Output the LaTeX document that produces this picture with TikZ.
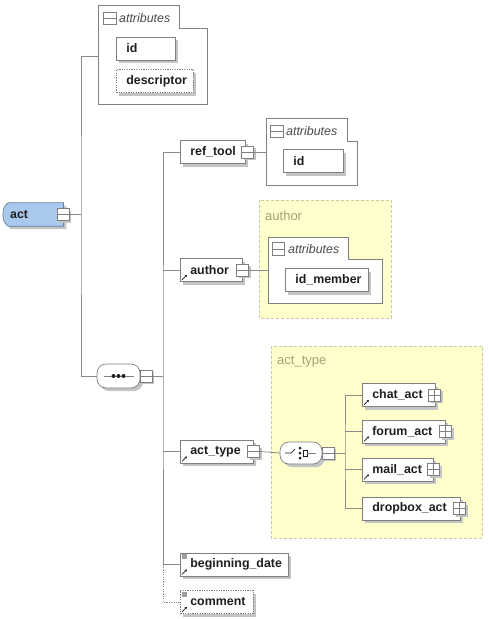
\documentclass[tikz,border=0pt]{standalone}
\usepackage{fontspec}
\setmainfont{Liberation Sans}
\usetikzlibrary{shadows,arrows.meta,backgrounds}
\definecolor{bord}{HTML}{7F7F7F}
\definecolor{connc}{HTML}{8A8A8A}
\definecolor{shd}{HTML}{C4C4C4}
\definecolor{yel}{HTML}{FFFFCC}
\definecolor{yelb}{HTML}{C9C9A8}
\definecolor{yellabc}{HTML}{A3A37A}
\definecolor{actblue}{HTML}{A9C8EE}
\definecolor{actbord}{HTML}{5F7F9F}
\definecolor{txt}{HTML}{1E1E1E}
\newcommand\elfont{\fontsize{12.4}{14}\selectfont\bfseries}
\tikzset{
  myshadow/.style={drop shadow={shadow xshift=3pt,shadow yshift=-3pt,fill=shd,opacity=1}},
  elem/.style={draw=bord, fill=white, line width=0.7pt, anchor=west, minimum height=23pt,
    inner xsep=10pt, inner ysep=0pt, align=left, text width=#1, font=\elfont, text=txt, myshadow},
  optelem/.style={elem=#1, dash pattern=on 1.2pt off 1.2pt},
  icon/.style={draw=bord, fill=white, line width=0.7pt, minimum size=12pt, inner sep=0pt,
    drop shadow={shadow xshift=2pt,shadow yshift=-2pt,fill=shd,opacity=1},
    path picture={\draw[bord,line width=0.6pt] (path picture bounding box.west) -- (path picture bounding box.east);}},
  iconp/.style={icon,
    path picture={\draw[bord,line width=0.6pt] (path picture bounding box.west) -- (path picture bounding box.east)
      (path picture bounding box.north) -- (path picture bounding box.south);}},
  minusic/.style={draw=bord, fill=white, line width=0.6pt, minimum size=12.5pt, inner sep=0pt,
    path picture={\draw[bord,line width=0.6pt] (path picture bounding box.west) -- (path picture bounding box.east);}},
  attrbox/.style={draw=bord, fill=white, line width=0.7pt},
  attrlab/.style={anchor=west, inner sep=0pt, font=\fontsize{12.4}{14}\selectfont\itshape, text=txt!80},
  yelbox/.style={draw=yelb, fill=yel, dash pattern=on 3pt off 2pt, line width=0.7pt},
  yellab/.style={anchor=west, inner sep=0pt, font=\fontsize{13}{15}\selectfont, text=yellabc},
  compos/.style={draw=bord, fill=white, line width=0.7pt, rounded corners=9pt, minimum width=43pt,
    minimum height=24pt, inner sep=0pt, myshadow},
  conn/.style={draw=connc, line width=0.8pt},
  refar/.style={draw=txt, line width=0.6pt, -{Stealth[length=2.5pt,width=2.5pt]}},
  optsq/.style={fill=gray!75}
}
\begin{document}
\begin{tikzpicture}[x=1pt,y=-1pt]
\useasboundingbox (0,0) rectangle (489,619);

% yellow type boxes
\draw[yelbox] (259,200) rectangle (391,318);
\node[yellab] (authLab) at (265,216) {author};
\draw[yelbox] (271,346) rectangle (482,538);
\node[yellab] (atLab) at (277,362) {act\_type};

% attribute containers
\draw[attrbox] (98,5) -- (179,5) -- (179,28) -- (207,28) -- (207,104) -- (98,104) -- cycle;
\node[minusic] (aIc) at (110,18.5) {};
\node[attrlab] (aLab) at (119,18.5) {attributes};
\coordinate (attrA) at (98,56);

\draw[attrbox] (266,118) -- (347,118) -- (347,141) -- (357,141) -- (357,185) -- (266,185) -- cycle;
\node[minusic] (bIc) at (277,131.5) {};
\node[attrlab] (bLab) at (286,131.5) {attributes};
\coordinate (attrB) at (266,152);

\draw[attrbox] (268,237) -- (348,237) -- (348,259) -- (382,259) -- (382,303) -- (268,303) -- cycle;
\node[minusic] (cIc) at (278.5,249) {};
\node[attrlab] (cLab) at (288,249) {attributes};
\coordinate (attrC) at (268,270);

% root element
\node[anchor=west, minimum width=60pt, minimum height=23pt, inner xsep=7pt, inner ysep=0pt,
      text width=46pt, align=left, font=\elfont, text=txt] (act) at (3,214.5) {act};
\begin{pgfonlayer}{background}
  \fill[shd] ([shift={(3,3)}]act.north east) -- ([shift={(8,3)}]act.north west)
    .. controls ([shift={(4,7)}]act.north west) and ([shift={(3,-3)}]act.west) .. ([shift={(3,3)}]act.west)
    .. controls ([shift={(3,9)}]act.west) and ([shift={(4,-1)}]act.south west) .. ([shift={(8,3)}]act.south west)
    -- ([shift={(3,3)}]act.south east) -- cycle;
  \draw[actbord, fill=actblue, line width=0.7pt] (act.north east) -- ([xshift=5]act.north west)
    .. controls ([shift={(1,4)}]act.north west) and ([shift={(0,-6)}]act.west) .. (act.west)
    .. controls ([shift={(0,6)}]act.west) and ([shift={(1,-4)}]act.south west) .. ([xshift=5]act.south west)
    -- (act.south east) -- cycle;
\end{pgfonlayer}
\node[icon] (actI) at (act.east) {};

% attribute children
\node[elem=39pt] (id1) at (116,48.5) {id};
\node[optelem=57pt] (desc) at (116,81) {descriptor};

% sequence compositor
\node[compos] (seq) at (118.5,376) {};
\draw[bord, line width=0.7pt] ([xshift=-15]seq.center) -- ([xshift=15]seq.center);
\fill[txt] ([xshift=-5]seq.center) circle (2) (seq.center) circle (2) ([xshift=5]seq.center) circle (2);
\node[icon] (seqI) at ([xshift=6]seq.east) {};

% sequence children
\node[elem=45pt] (refT) at (180,152) {ref\_tool};
\node[icon] (refI) at ([xshift=2]refT.east) {};
\node[elem=40pt] (id2) at (283,161) {id};

\node[elem=42pt] (author) at (180,270) {author};
\node[icon] (authI) at (author.east) {};
\draw[refar] ([shift={(2,-2)}]author.south west) -- ++(5,-5);
\node[elem=63pt] (idm) at (285,280) {id\_member};

\node[elem=53pt] (acttype) at (180,451.5) {act\_type};
\node[icon] (atI) at (acttype.east) {};
\draw[refar] ([shift={(2,-2)}]acttype.south west) -- ++(5,-5);

\node[elem=88pt] (begin) at (180,564.5) {beginning\_date};
\fill[optsq] ([shift={(1.5,1.5)}]begin.north west) rectangle ++(5,5);
\draw[refar] ([shift={(2,-2)}]begin.south west) -- ++(5,-5);

\node[optelem=53pt] (comment) at (180,602) {comment};
\fill[optsq] ([shift={(1.5,1.5)}]comment.north west) rectangle ++(5,5);
\draw[refar] ([shift={(2,-2)}]comment.south west) -- ++(5,-5);

% choice compositor
\node[compos, minimum width=42pt, minimum height=22pt] (choice) at (301,453) {};
\draw[txt, line width=0.7pt] ([xshift=-16]choice.center) -- ([xshift=-10]choice.center) -- ([shift={(-6,-4)}]choice.center);
\fill[txt] ([shift={(-1,-5)}]choice.center) circle (1.5) ([shift={(-1,0)}]choice.center) circle (1.5) ([shift={(-1,5)}]choice.center) circle (1.5);
\draw[txt, line width=0.6pt] ([shift={(2,-3)}]choice.center) rectangle ([shift={(6,3)}]choice.center);
\draw[bord, line width=0.7pt] ([xshift=6]choice.center) -- ([xshift=15]choice.center);
\node[icon] (choiceI) at ([xshift=5.5]choice.east) {};

% choice children
\node[elem=53pt] (chat) at (362,395) {chat\_act};
\node[iconp] (chatI) at ([xshift=-1]chat.east) {};
\draw[refar] ([shift={(2,-2)}]chat.south west) -- ++(5,-5);
\node[elem=63pt] (forum) at (362,431.5) {forum\_act};
\node[iconp] (forumI) at (forum.east) {};
\draw[refar] ([shift={(2,-2)}]forum.south west) -- ++(5,-5);
\node[elem=51pt] (mail) at (362,469.5) {mail\_act};
\node[iconp] (mailI) at (mail.east) {};
\draw[refar] ([shift={(2,-2)}]mail.south west) -- ++(5,-5);
\node[elem=78pt] (dropbox) at (362,508.5) {dropbox\_act};
\node[iconp] (dropI) at ([xshift=-1]dropbox.east) {};

% connectors
\coordinate (jA) at (81,214.5);
\coordinate (jB) at (163,376);
\coordinate (jC) at (345,453);
\draw[conn] (actI.east) -- (jA);
\draw[conn] (attrA) -| (jA) |- (seq.west);
\draw[conn] (seqI.east) -- (jB);
\draw[conn] (refT.west) -| (jB) |- (begin.west);
\draw[conn] (author.west) -- (author.west -| jB);
\draw[conn] (acttype.west) -- (acttype.west -| jB);
\draw[conn, dash pattern=on 1.2pt off 1.2pt] (begin.west -| jB) |- (comment.west);
\draw[conn] (refI.east) -- (refI.east -| attrB);
\draw[conn] (authI.east) -- (authI.east -| attrC);
\draw[conn] (atI.east) -- (choice.west);
\draw[conn] (choiceI.east) -- (jC);
\draw[conn] (chat.west) -| (jC) |- (dropbox.west);
\draw[conn] (forum.west) -- (forum.west -| jC);
\draw[conn] (mail.west) -- (mail.west -| jC);
\end{tikzpicture}
\end{document}
